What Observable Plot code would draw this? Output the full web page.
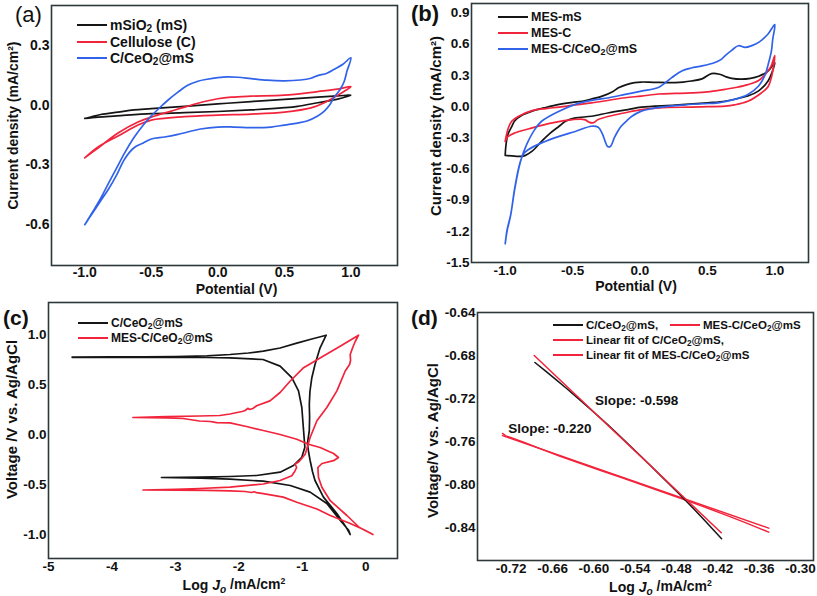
<!DOCTYPE html>
<html><head><meta charset="utf-8">
<script src="https://cdn.jsdelivr.net/npm/d3@7"></script>
<script src="https://cdn.jsdelivr.net/npm/@observablehq/plot@0.6"></script>
<style>
body{margin:0;background:#fff;font-family:"Liberation Sans",Arial,Helvetica,sans-serif;}
#root{position:relative;width:817px;height:596px;overflow:hidden;background:#fff;}
.panel{position:absolute;}
.panel svg{position:absolute;left:0;top:0;}
.lg{position:absolute;font-weight:bold;white-space:nowrap;color:#111;display:flex;align-items:center;height:16px;line-height:16px;}
.lg .sw{display:inline-block;height:2px;margin-right:3px;}
.plab{position:absolute;line-height:1;color:#111;}
sub{font-size:0.72em;vertical-align:-0.22em;line-height:0;}
</style></head><body><div id="root"></div><script>
// ---------------- DATA ----------------
// (a) CV curves: [potential V, current density mA/cm2]
const aMesoSilica = [[-1,-0.067],[-0.88,-0.047],[-0.75,-0.035],[-0.63,-0.024],[-0.5,-0.018],[-0.25,-0.006],[0,0.006],[0.25,0.018],[0.5,0.029],[0.75,0.04],[0.9,0.046],[1,0.05],[0.9,0.03],[0.75,0.012],[0.6,-0.006],[0.5,-0.013],[0.25,-0.024],[0,-0.032],[-0.25,-0.038],[-0.5,-0.043],[-0.76,-0.054],[-0.9,-0.06],[-1,-0.067]];
const aCellulose = [[-1,-0.265],[-0.9,-0.215],[-0.75,-0.14],[-0.6,-0.085],[-0.5,-0.06],[-0.35,-0.03],[-0.25,-0.01],[-0.1,0.018],[0,0.032],[0.1,0.04],[0.25,0.045],[0.5,0.05],[0.75,0.068],[0.9,0.08],[1,0.093],[0.95,0.07],[0.9,0.05],[0.8,0.012],[0.7,-0.014],[0.5,-0.035],[0.25,-0.045],[0,-0.05],[-0.25,-0.058],[-0.5,-0.075],[-0.6,-0.1],[-0.75,-0.155],[-0.9,-0.21],[-1,-0.265]];
const aCeria = [[-1,-0.6],[-0.94,-0.535],[-0.88,-0.467],[-0.82,-0.39],[-0.76,-0.315],[-0.7,-0.24],[-0.63,-0.163],[-0.56,-0.1],[-0.5,-0.054],[-0.44,-0.015],[-0.38,0.022],[-0.3,0.065],[-0.23,0.098],[-0.15,0.12],[-0.08,0.13],[0,0.138],[0.07,0.142],[0.15,0.14],[0.25,0.133],[0.37,0.125],[0.5,0.122],[0.62,0.126],[0.7,0.135],[0.75,0.148],[0.82,0.16],[0.875,0.18],[0.94,0.205],[1,0.238],[0.97,0.17],[0.95,0.12],[0.92,0.08],[0.875,0.04],[0.84,0.0],[0.8,-0.03],[0.75,-0.055],[0.67,-0.08],[0.6,-0.09],[0.5,-0.1],[0.4,-0.11],[0.27,-0.113],[0.12,-0.11],[0,-0.11],[-0.13,-0.12],[-0.3,-0.147],[-0.4,-0.16],[-0.5,-0.17],[-0.56,-0.19],[-0.63,-0.214],[-0.7,-0.27],[-0.76,-0.35],[-0.82,-0.42],[-0.88,-0.48],[-0.94,-0.54],[-1,-0.6]];

// (b) CV curves
const bMesMS = [[-1,-0.47],[-0.995,-0.38],[-0.98,-0.27],[-0.95,-0.19],[-0.93,-0.14],[-0.87,-0.08],[-0.8,-0.045],[-0.7,-0.01],[-0.6,0.02],[-0.5,0.04],[-0.43,0.05],[-0.35,0.075],[-0.28,0.1],[-0.2,0.145],[-0.16,0.18],[-0.1,0.21],[-0.04,0.23],[0.01,0.235],[0.1,0.232],[0.2,0.23],[0.26,0.23],[0.32,0.235],[0.38,0.245],[0.46,0.265],[0.53,0.316],[0.59,0.31],[0.64,0.285],[0.68,0.27],[0.75,0.262],[0.82,0.27],[0.88,0.29],[0.95,0.34],[1,0.42],[0.98,0.33],[0.95,0.245],[0.88,0.15],[0.8,0.1],[0.75,0.084],[0.63,0.05],[0.5,0.035],[0.26,0.013],[0.01,-0.006],[-0.09,-0.03],[-0.23,-0.06],[-0.36,-0.094],[-0.48,-0.11],[-0.55,-0.14],[-0.6,-0.19],[-0.67,-0.26],[-0.73,-0.335],[-0.8,-0.43],[-0.85,-0.47],[-0.88,-0.48],[-0.93,-0.478],[-1,-0.47]];
const bMesC = [[-1,-0.335],[-0.99,-0.27],[-0.975,-0.2],[-0.95,-0.14],[-0.9,-0.094],[-0.8,-0.04],[-0.7,-0.02],[-0.6,-0.006],[-0.48,0.015],[-0.36,0.035],[-0.23,0.06],[-0.11,0.084],[0.01,0.1],[0.14,0.12],[0.26,0.125],[0.38,0.13],[0.5,0.14],[0.63,0.165],[0.72,0.185],[0.8,0.21],[0.88,0.25],[0.93,0.31],[0.97,0.38],[1,0.49],[0.975,0.28],[0.95,0.19],[0.9,0.13],[0.8,0.05],[0.7,0.015],[0.63,0.003],[0.5,-0.002],[0.38,-0.006],[0.14,-0.013],[0.01,-0.03],[-0.11,-0.06],[-0.23,-0.094],[-0.31,-0.126],[-0.35,-0.158],[-0.38,-0.15],[-0.41,-0.126],[-0.5,-0.126],[-0.65,-0.158],[-0.8,-0.206],[-0.93,-0.255],[-0.98,-0.29],[-1,-0.335]];
const bMesCeria = [[-1,-1.32],[-0.985,-1.18],[-0.96,-1.045],[-0.93,-0.8],[-0.9,-0.6],[-0.88,-0.5],[-0.855,-0.41],[-0.83,-0.335],[-0.78,-0.22],[-0.73,-0.142],[-0.6,-0.045],[-0.48,0.02],[-0.36,0.058],[-0.23,0.084],[-0.11,0.116],[0.01,0.148],[0.14,0.185],[0.235,0.277],[0.31,0.342],[0.38,0.37],[0.46,0.39],[0.556,0.423],[0.6,0.45],[0.63,0.487],[0.68,0.54],[0.73,0.584],[0.78,0.568],[0.83,0.585],[0.88,0.616],[0.95,0.697],[1,0.787],[0.985,0.65],[0.975,0.535],[0.95,0.4],[0.93,0.31],[0.88,0.197],[0.8,0.116],[0.7,0.068],[0.58,0.035],[0.46,0.026],[0.31,0.013],[0.16,-0.006],[0.05,-0.03],[0.01,-0.045],[-0.06,-0.094],[-0.1,-0.14],[-0.14,-0.19],[-0.17,-0.25],[-0.19,-0.3],[-0.22,-0.384],[-0.24,-0.385],[-0.26,-0.33],[-0.28,-0.26],[-0.31,-0.2],[-0.36,-0.19],[-0.48,-0.24],[-0.6,-0.287],[-0.73,-0.35],[-0.83,-0.416],[-0.86,-0.45],[-0.88,-0.5],[-0.9,-0.59],[-0.93,-0.79],[-0.96,-1.05],[-0.985,-1.19],[-1,-1.32]];

// (c) Tafel curves: [log J, voltage V]
const cCeria = [[-4.627,0.775],[-4,0.776],[-3.5,0.777],[-3,0.779],[-2.5,0.787],[-2.14,0.8],[-1.85,0.815],[-1.615,0.834],[-1.35,0.865],[-1.087,0.914],[-0.85,0.955],[-0.624,0.993],[-0.72,0.867],[-0.8,0.7],[-0.85,0.568],[-0.88,0.43],[-0.89,0.3],[-0.885,0.17],[-0.89,0.038],[-0.92,-0.09],[-0.9,-0.18],[-0.877,-0.26],[-0.84,-0.37],[-0.8,-0.46],[-0.667,-0.626],[-0.455,-0.79],[-0.297,-0.94],[-0.245,-1.0],[-0.27,-0.957],[-0.404,-0.857],[-0.614,-0.69],[-0.877,-0.576],[-1.19,-0.51],[-1.615,-0.467],[-2.14,-0.447],[-2.6,-0.437],[-3.22,-0.43],[-2.6,-0.426],[-2.14,-0.42],[-1.72,-0.41],[-1.35,-0.377],[-1.14,-0.31],[-1.008,-0.228],[-0.96,-0.128],[-0.98,0.038],[-1.008,0.27],[-1.06,0.436],[-1.166,0.568],[-1.35,0.684],[-1.62,0.75],[-2.14,0.767],[-2.5,0.77],[-3,0.771],[-3.5,0.772],[-4.627,0.772]];
const cMesCeria = [[-3.51,-0.555],[-3,-0.557],[-2.5,-0.559],[-2.14,-0.563],[-1.9,-0.57],[-1.8,-0.58],[-1.76,-0.572],[-1.72,-0.582],[-1.615,-0.592],[-1.3,-0.626],[-1.087,-0.677],[-0.77,-0.745],[-0.56,-0.81],[-0.245,-0.89],[-0.035,-0.95],[0.113,-1.0],[-0.1,-0.93],[-0.297,-0.81],[-0.56,-0.662],[-0.69,-0.53],[-0.745,-0.43],[-0.755,-0.33],[-0.69,-0.29],[-0.508,-0.262],[-0.43,-0.23],[-0.508,-0.19],[-0.72,-0.13],[-0.903,-0.097],[-1.087,-0.047],[-1.35,0.0],[-1.615,0.04],[-1.88,0.08],[-2.14,0.117],[-2.35,0.118],[-2.45,0.13],[-2.62,0.135],[-2.88,0.16],[-3.14,0.165],[-3.67,0.17],[-3.14,0.178],[-2.62,0.185],[-2.3,0.19],[-2.14,0.205],[-1.95,0.23],[-1.9,0.24],[-1.86,0.262],[-1.83,0.25],[-1.78,0.26],[-1.72,0.287],[-1.51,0.336],[-1.35,0.42],[-1.19,0.535],[-0.98,0.668],[-0.667,0.784],[-0.404,0.883],[-0.114,0.993],[-0.166,0.93],[-0.2,0.88],[-0.245,0.8],[-0.24,0.74],[-0.255,0.7],[-0.324,0.635],[-0.455,0.436],[-0.614,0.27],[-0.77,0.137],[-0.877,-0.03],[-0.955,-0.197],[-1.05,-0.27],[-1.113,-0.297],[-1.09,-0.33],[-1.12,-0.37],[-1.166,-0.413],[-1.35,-0.46],[-1.615,-0.495],[-2.14,-0.527],[-2.62,-0.54],[-3,-0.548],[-3.51,-0.555]];

// (d) Tafel linear regions and fits
const dCeria = [[-0.6856,-0.6865],[-0.67,-0.6945],[-0.655,-0.7025],[-0.64,-0.7105],[-0.62,-0.7215],[-0.6,-0.7328],[-0.58,-0.7443],[-0.56,-0.7563],[-0.54,-0.7686],[-0.52,-0.781],[-0.5,-0.7936],[-0.48,-0.8062],[-0.46,-0.8192],[-0.44,-0.8327],[-0.4145,-0.8505]];
const dCeriaFit = [[-0.6866,-0.68],[-0.415,-0.8449]];
const dMesCeria = [[-0.7326,-0.7525],[-0.728,-0.7548],[-0.72,-0.7565],[-0.7,-0.7612],[-0.68,-0.7662],[-0.65,-0.7735],[-0.62,-0.7803],[-0.59,-0.787],[-0.56,-0.7935],[-0.53,-0.8002],[-0.5,-0.807],[-0.47,-0.8138],[-0.44,-0.8208],[-0.41,-0.828],[-0.38,-0.8355],[-0.346,-0.8443]];
const dMesCeriaFit = [[-0.7326,-0.7545],[-0.346,-0.8406]];
const dSlopes = [{text:"Slope: -0.598", x:-0.5984, y:-0.7219},{text:"Slope: -0.220", x:-0.7244, y:-0.7477}];

// tick values
const aXTicks = [-1,-0.5,0,0.5,1], aYTicks = [0.3,0,-0.3,-0.6];
const bXTicks = [-1,-0.5,0,0.5,1], bYTicks = [0.9,0.6,0.3,0,-0.3,-0.6,-0.9,-1.2,-1.5];
const cXTicks = [-5,-4,-3,-2,-1,0], cYTicks = [1,0.5,0,-0.5,-1];
const dXTicks = [-0.72,-0.66,-0.60,-0.54,-0.48,-0.42,-0.36,-0.30], dYTicks = [-0.64,-0.68,-0.72,-0.76,-0.80,-0.84];

// legend labels
const aLegend = ["mSiO<sub>2</sub> (mS)","Cellulose (C)","C/CeO<sub>2</sub>@mS"];
const bLegend = ["MES-mS","MES-C","MES-C/CeO<sub>2</sub>@mS"];
const cLegend = ["C/CeO<sub>2</sub>@mS","MES-C/CeO<sub>2</sub>@mS"];
const dLegend = ["C/CeO<sub>2</sub>@mS,","MES-C/CeO<sub>2</sub>@mS","Linear fit of C/CeO<sub>2</sub>@mS,","Linear fit of MES-C/CeO<sub>2</sub>@mS"];

// ---------------- DRAWING ----------------
const RED = "#f2243c", BLUE = "#3163ea", BLACK = "#151515", FRAME = "#2e3838";
const FONT = "'Liberation Sans', Arial, Helvetica, sans-serif";
const root = document.getElementById("root");
const rows = pairs => pairs.map(([x, y]) => ({x, y}));

function makePanel(c) {
  const div = document.createElement("div");
  div.className = "panel";
  Object.assign(div.style, {left: c.left + "px", top: c.top + "px", width: c.width + "px", height: c.height + "px"});
  root.appendChild(div);
  const marks = [
    ...c.series.map(s => Plot.line(rows(s.data), {x: "x", y: "y", stroke: s.color, strokeWidth: s.width || 1.7, curve: c.curve})),
    Plot.frame({stroke: FRAME, strokeWidth: 1.6}),
    Plot.axisX(c.xTicks, {tickSize: 0, tickPadding: c.xPad ?? 3, tickFormat: c.xFmt, label: null, fontSize: c.tickSize}),
    Plot.axisY(c.yTicks, {tickSize: 0, tickPadding: 2, tickFormat: c.yFmt, label: null, fontSize: c.tickSize}),
    Plot.text([c.xLabel], {frameAnchor: "bottom", dx: c.xLabelDx, dy: c.xLabelDy, lineAnchor: "middle", fontSize: 14, fontWeight: "bold"}),
    Plot.text([c.yLabel], {frameAnchor: "left", rotate: -90, dx: c.yLabelDx, dy: c.yLabelDy, lineAnchor: "middle", textAnchor: "middle", fontSize: c.yLabelSize, fontWeight: "bold"}),
    ...(c.extra || [])
  ];
  const svg = Plot.plot({
    width: c.width, height: c.height,
    marginLeft: c.m[0], marginRight: c.m[1], marginTop: c.m[2], marginBottom: c.m[3],
    x: {domain: c.xDomain, label: null},
    y: {domain: c.yDomain, label: null},
    style: {fontFamily: FONT, fontWeight: "bold", fontSize: c.tickSize + "px", color: "#111", background: "transparent", overflow: "visible"},
    marks
  });
  // rich text for the current-density label
  d3.select(svg).selectAll("text").each(function () {
    if (this.textContent === "LOGJ") {
      this.innerHTML = 'Log <tspan font-style="italic">J</tspan><tspan font-style="italic" font-size="0.72em" dy="0.3em">o</tspan><tspan dy="-0.3em"> /mA/cm</tspan><tspan font-size="0.62em" dy="-0.55em">2</tspan>';
    }
  });
  div.appendChild(svg);
  // panel letter
  const lab = document.createElement("div");
  lab.className = "plab";
  lab.textContent = c.letter;
  Object.assign(lab.style, {left: c.letterPos[0] + "px", top: c.letterPos[1] + "px", fontSize: c.letterSize + "px", fontWeight: c.letterWeight});
  div.appendChild(lab);
  // legend
  for (const it of c.legend) {
    const row = document.createElement("div");
    row.className = "lg";
    Object.assign(row.style, {left: it.x + "px", top: (it.y - 8) + "px", fontSize: c.legendSize + "px"});
    row.innerHTML = `<span class="sw" style="width:${it.w}px;background:${it.color}"></span><span>${it.label}</span>`;
    div.appendChild(row);
  }
  return div;
}

const f1 = d => d.toFixed(1), f0 = d => d.toFixed(0), f2 = d => d.toFixed(2);

makePanel({
  left: 0, top: 0, width: 408, height: 300, m: [51, 11, 5, 35],
  xDomain: [-1.25, 1.35], yDomain: [-0.805, 0.5], xTicks: aXTicks, yTicks: aYTicks, xFmt: f1, yFmt: f1, tickSize: 14, xPad: 2,
  curve: "catmull-rom",
  series: [{data: aMesoSilica, color: BLACK}, {data: aCellulose, color: RED}, {data: aCeria, color: BLUE}],
  xLabel: "Potential (V)", xLabelDx: 12, xLabelDy: 24,
  yLabel: "Current density (mA/cm²)", yLabelDx: -38, yLabelDy: -10, yLabelSize: 14,
  letter: "(a)", letterPos: [15, 4], letterSize: 22, letterWeight: "normal",
  legendSize: 14,
  legend: [{x: 77, y: 25, w: 30, color: BLACK, label: aLegend[0]}, {x: 77, y: 42, w: 30, color: RED, label: aLegend[1]}, {x: 77, y: 58, w: 30, color: BLUE, label: aLegend[2]}]
});

makePanel({
  left: 408, top: 0, width: 409, height: 300, m: [63, 9, 3, 38],
  xDomain: [-1.25, 1.25], yDomain: [-1.5, 0.99], xTicks: bXTicks, yTicks: bYTicks, xFmt: f1, yFmt: f1, tickSize: 13.5,
  curve: "catmull-rom",
  series: [{data: bMesMS, color: BLACK}, {data: bMesC, color: RED}, {data: bMesCeria, color: BLUE}],
  xLabel: "Potential (V)", xLabelDx: -4, xLabelDy: 24,
  yLabel: "Current density (mA/cm²)", yLabelDx: -35, yLabelDy: -7, yLabelSize: 15,
  letter: "(b)", letterPos: [3, 3], letterSize: 22, letterWeight: "bold",
  legendSize: 12.5,
  legend: [{x: 90, y: 17, w: 30, color: BLACK, label: bLegend[0]}, {x: 90, y: 33, w: 30, color: RED, label: bLegend[1]}, {x: 90, y: 49, w: 30, color: BLUE, label: bLegend[2]}]
});

makePanel({
  left: 0, top: 300, width: 408, height: 296, m: [48, 11, 2, 38],
  xDomain: [-5, 0.5], yDomain: [-1.24, 1.32], xTicks: cXTicks, yTicks: cYTicks, xFmt: f0, yFmt: f1, tickSize: 13.5,
  curve: "linear",
  series: [{data: cCeria, color: BLACK}, {data: cMesCeria, color: RED}],
  xLabel: "LOGJ", xLabelDx: 11, xLabelDy: 27,
  yLabel: "Voltage /V vs. Ag/AgCl", yLabelDx: -36, yLabelDy: -11, yLabelSize: 15,
  letter: "(c)", letterPos: [3, 7], letterSize: 21, letterWeight: "bold",
  legendSize: 12,
  legend: [{x: 78, y: 23, w: 30, color: BLACK, label: cLegend[0]}, {x: 78, y: 38, w: 30, color: RED, label: cLegend[1]}]
});

makePanel({
  left: 408, top: 300, width: 409, height: 296, m: [69, 4, 12, 36],
  xDomain: [-0.769, -0.281], yDomain: [-0.8707, -0.64], xTicks: dXTicks, yTicks: dYTicks, xFmt: f2, yFmt: f2, tickSize: 13.5,
  curve: "linear",
  series: [{data: dMesCeria, color: RED, width: 1.5}, {data: dMesCeriaFit, color: RED, width: 1.5}, {data: dCeria, color: BLACK, width: 1.5}, {data: dCeriaFit, color: RED, width: 1.5}],
  xLabel: "LOGJ", xLabelDx: 15, xLabelDy: 27,
  yLabel: "Voltage/V vs. Ag/AgCl", yLabelDx: -44, yLabelDy: 4, yLabelSize: 15,
  extra: [Plot.text(dSlopes, {x: "x", y: "y", text: "text", textAnchor: "start", fontSize: 13.5, fontWeight: "bold"})],
  letter: "(d)", letterPos: [3, 7], letterSize: 21, letterWeight: "bold",
  legendSize: 11.5,
  legend: [{x: 145, y: 25, w: 30, color: BLACK, label: dLegend[0]}, {x: 262, y: 25, w: 30, color: RED, label: dLegend[1]}, {x: 145, y: 40, w: 30, color: RED, label: dLegend[2]}, {x: 145, y: 55, w: 30, color: RED, label: dLegend[3]}]
});
</script></body></html>
